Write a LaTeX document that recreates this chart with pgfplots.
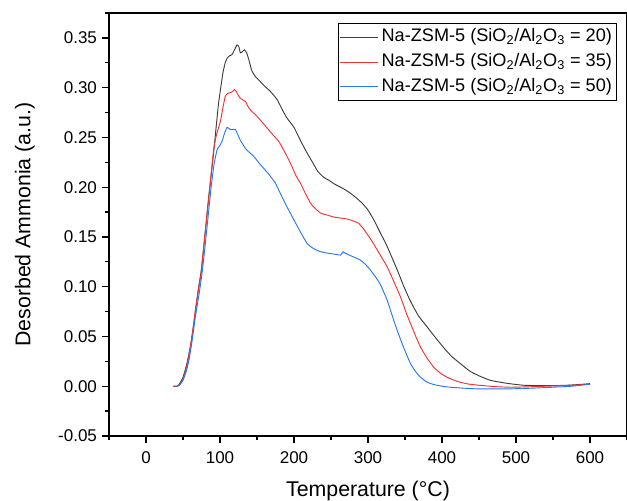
\documentclass[border=0pt]{standalone}
\usepackage{fontspec}
\setmainfont{Liberation Sans}
\usepackage{pgfplots}
\pgfplotsset{compat=1.18}
\definecolor{c20}{RGB}{60,60,60}
\definecolor{c35}{RGB}{240,50,50}
\definecolor{c50}{RGB}{40,120,230}
\begin{document}
\begin{tikzpicture}
\useasboundingbox (0,0) rectangle (470.25pt,375pt);
\begin{axis}[
 at={(81.75pt,48pt)}, anchor=south west,
 scale only axis, width=388.5pt, height=317.25pt,
 xmin=-50, xmax=650, ymin=-0.05, ymax=0.375,
 xtick={0,100,200,300,400,500,600},
 minor xtick={-50,50,150,250,350,450,550,650},
 ytick={-0.05,0,0.05,0.1,0.15,0.2,0.25,0.3,0.35},
 minor ytick={-0.025,0.025,0.075,0.125,0.175,0.225,0.275,0.325,0.375},
 tick pos=left, tick align=outside,
 major tick length=5.5pt, minor tick length=3pt,
 every tick/.style={line width=1pt, black},
 axis line style={line width=1.2pt},
 /pgf/number format/assume math mode=true,
 ticklabel style={font=\fontsize{12.75}{14}\selectfont},
 xticklabel style={yshift=-3pt},
 yticklabel style={/pgf/number format/.cd, fixed, fixed zerofill, precision=2},
 xlabel={Temperature (°C)},
 ylabel={Desorbed Ammonia (a.u.)},
 xlabel style={at={(axis description cs:0.5,-0.1435)}, anchor=base, font=\fontsize{16}{19}\selectfont},
 ylabel style={at={(axis description cs:-0.152,0.5)}, anchor=base, font=\fontsize{16}{19}\selectfont},
 legend cell align=left,
 legend style={at={(0.981,0.9757)}, anchor=north east, draw=black, line width=0.9pt,
   font=\fontsize{13.6}{15}\selectfont, inner sep=1pt,
   nodes={text height=10pt, text depth=3.5pt, inner sep=2.5pt}},
 legend image code/.code={\draw[#1] (0cm,0cm) -- (1.0cm,0cm);},
 every axis plot/.append style={smooth, tension=0.3},
]
\addplot[c20, line width=0.7pt] coordinates {
(36.5,0) (42,0) (45,0.002) (50,0.009) (55,0.022) (60,0.040) (65,0.065) (70,0.094)
(75,0.118) (80,0.155) (85,0.192) (91,0.232) (95,0.262) (98,0.284) (101,0.300)
(104,0.315) (107,0.325) (110,0.330) (113,0.332) (116,0.333) (119,0.337) (123,0.343)
(125.5,0.341) (127.5,0.335) (130,0.336) (133,0.338) (136,0.335) (139,0.328) (143,0.317)
(148,0.311) (152,0.308) (157,0.304) (161,0.301) (167,0.297) (173,0.292) (178,0.287)
(182,0.281) (190,0.270) (200,0.260) (210,0.245) (218,0.234) (225,0.225) (232,0.216)
(240,0.210) (247,0.207) (255,0.203) (263,0.200) (270,0.197) (276,0.194) (283,0.190)
(292,0.184) (300,0.177) (308,0.167) (316,0.155) (324,0.1435) (332,0.130) (340,0.116)
(348,0.101) (357,0.086) (368,0.071) (380,0.0595) (390,0.050) (402,0.039) (413,0.030)
(425,0.0226) (438,0.015) (452,0.0098) (465,0.006) (479,0.004) (493,0.0024) (510,0.001)
(530,0.0006) (550,0.0006) (570,0.001) (590,0.002) (600,0.0026)
};
\addlegendentry{Na-ZSM-5 (SiO\textsubscript{2}/Al\textsubscript{2}O\textsubscript{3} = 20)}
\addplot[c35, line width=0.7pt] coordinates {
(36.5,0) (44,0.0005) (48,0.004) (51,0.009) (54,0.017) (57.6,0.029) (62,0.049)
(66.7,0.076) (71,0.097) (74,0.111) (78,0.140) (82,0.169) (86,0.198) (91.4,0.2376)
(95,0.252) (100.5,0.266) (104,0.280) (107,0.291) (110,0.294) (114,0.295) (117,0.296)
(119.4,0.298) (122,0.296) (126.6,0.290) (130,0.288) (134.3,0.286) (138.8,0.280)
(143,0.276) (147.8,0.273) (155,0.267) (163.6,0.2595) (171,0.253) (179.4,0.246)
(187,0.236) (195.2,0.224) (203,0.211) (208.7,0.204) (213.2,0.197) (218,0.190)
(222.2,0.184) (226.7,0.180) (235.7,0.174) (244.8,0.172) (253.7,0.170) (263,0.169)
(271.8,0.168) (280,0.166) (287.5,0.1637) (295,0.157) (303.4,0.148) (310,0.140)
(318,0.130) (325.9,0.120) (335,0.105) (343.9,0.0897) (352,0.073) (357.5,0.063)
(364,0.051) (371,0.0393) (380,0.028) (389,0.019) (398,0.013) (407,0.009) (420,0.005)
(434,0.0024) (450,0.001) (470,-0.0003) (492.7,-0.001) (520,-0.0005) (550,0.0003)
(575,0.001) (600,0.002)
};
\addlegendentry{Na-ZSM-5 (SiO\textsubscript{2}/Al\textsubscript{2}O\textsubscript{3} = 35)}
\addplot[c50, line width=0.7pt] coordinates {
(40,-0.0005) (45,0.001) (50,0.006) (54,0.014) (58,0.026) (62,0.044) (67,0.071)
(72,0.094) (76,0.115) (80,0.142) (84,0.171) (88,0.200) (92,0.223) (96,0.2376)
(99,0.241) (102.8,0.246) (106,0.254) (109.5,0.260) (112,0.259) (114,0.258) (118,0.258)
(120.8,0.258) (124,0.253) (127.5,0.247) (131,0.243) (134.3,0.239) (138,0.236)
(143.4,0.2326) (147.8,0.229) (153,0.224) (159,0.219) (167,0.212) (174.9,0.204)
(182,0.193) (190.7,0.180) (200,0.167) (208.7,0.155) (217.7,0.1435) (225,0.139)
(233.4,0.1358) (243,0.134) (253.7,0.1328) (262.8,0.1318) (265,0.134) (266.4,0.1351)
(268.5,0.134) (271.8,0.1328) (280,0.130) (289.8,0.1267) (297,0.122) (303.4,0.1166)
(310,0.110) (316.9,0.102) (325.9,0.0864) (334.9,0.066) (340,0.055) (346.2,0.0427)
(352,0.032) (357.5,0.0226) (364,0.015) (371,0.009) (380,0.004) (389,0.0017) (400,0.000)
(411.5,-0.001) (430,-0.002) (447.6,-0.0026) (470,-0.0027) (492.7,-0.0026) (520,-0.002)
(550,-0.001) (575,0.000) (600,0.002)
};
\addlegendentry{Na-ZSM-5 (SiO\textsubscript{2}/Al\textsubscript{2}O\textsubscript{3} = 50)}
\end{axis}
\end{tikzpicture}
\end{document}
